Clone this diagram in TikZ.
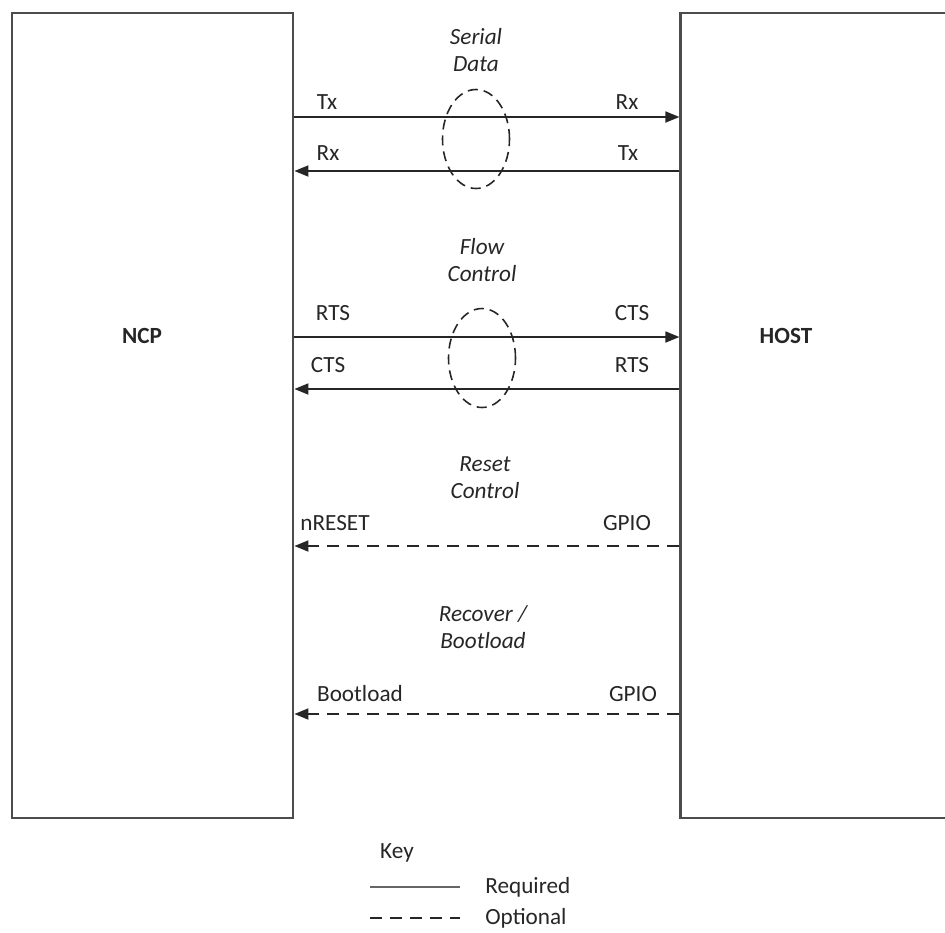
\documentclass[tikz,border=0pt]{standalone}
\usepackage{fontspec}
\setmainfont{Carlito}
\usepackage{tikz}
\usetikzlibrary{shapes.geometric,arrows.meta,positioning,calc}

\tikzset{
  chip/.style={draw=black!70, line width=1.6pt, minimum width=5.62cm, minimum height=16.1cm, inner sep=0pt},
  sig/.style={draw=black!85, line width=1pt, -{Triangle[length=0.28cm,width=0.22cm]}},
  optsig/.style={sig, dash pattern=on 0.24cm off 0.16cm},
  pin/.style={font=\fontsize{13.2}{15.4}\selectfont, text=black!85, inner sep=0pt},
  grp/.style={font=\fontsize{13.2}{15.4}\selectfont\itshape, align=center, text=black!85, inner sep=0pt},
  bundle/.style={ellipse, draw=black!85, line width=0.9pt, dash pattern=on 0.2cm off 0.12cm, minimum width=1.34cm, minimum height=1.98cm, inner sep=0pt}
}

\begin{document}
\begin{tikzpicture}
\clip (0,0) rectangle (18.9,-18.64);

% Two chips
\node[chip] (ncp) at (3.05,-8.31) {};
\node[chip, right=7.7cm of ncp] (host) {};
\node[pin, font=\fontsize{13.2}{15.4}\selectfont\bfseries] (ncplabel) at (2.84,-6.72) {NCP};
\node[pin, font=\fontsize{13.2}{15.4}\selectfont\bfseries] (hostlabel) at (15.72,-6.72) {HOST};

% Serial data
\node[grp] (serial) at (9.52,-1.0) {Serial\\Data};
\node[bundle] (serialring) at (9.52,-2.78) {};
\draw[sig] (ncp.east |- 0,-2.34) -- (host.west |- 0,-2.34);
\draw[sig] (host.west |- 0,-3.42) -- (ncp.east |- 0,-3.42);
\node[pin] (ncptx) at (6.54,-2.04) {Tx};
\node[pin] (hostrx) at (12.54,-2.04) {Rx};
\node[pin] (ncprx) at (6.56,-3.06) {Rx};
\node[pin] (hosttx) at (12.56,-3.06) {Tx};

% Flow control
\node[grp] (flow) at (9.64,-5.2) {Flow\\Control};
\node[bundle] (flowring) at (9.64,-7.16) {};
\draw[sig] (ncp.east |- 0,-6.74) -- (host.west |- 0,-6.74);
\draw[sig] (host.west |- 0,-7.78) -- (ncp.east |- 0,-7.78);
\node[pin] (ncprts) at (6.66,-6.26) {RTS};
\node[pin] (hostcts) at (12.64,-6.26) {CTS};
\node[pin] (ncpcts) at (6.56,-7.3) {CTS};
\node[pin] (hostrts) at (12.64,-7.3) {RTS};

% Reset control
\node[grp] (reset) at (9.7,-9.55) {Reset\\Control};
\draw[optsig] (host.west |- 0,-10.92) -- (ncp.east |- 0,-10.92);
\node[pin] (ncpreset) at (6.7,-10.46) {nRESET};
\node[pin] (hostgpioa) at (12.54,-10.46) {GPIO};

% Recover / bootload
\node[grp] (recover) at (9.66,-12.55) {Recover /\\Bootload};
\draw[optsig] (host.west |- 0,-14.28) -- (ncp.east |- 0,-14.28);
\node[pin] (ncpboot) at (7.2,-13.88) {Bootload};
\node[pin] (hostgpiob) at (12.66,-13.88) {GPIO};

% Key
\node[pin] (key) at (7.94,-17.06) {Key};
\coordinate (reqa) at (7.4,-17.74);
\coordinate (reqb) at (9.2,-17.74);
\coordinate (opta) at (7.4,-18.36);
\coordinate (optb) at (9.2,-18.36);
\draw[draw=black!60, line width=1.6pt] (reqa) -- (reqb);
\draw[draw=black!85, line width=1pt, dash pattern=on 0.24cm off 0.16cm] (opta) -- (optb);
\node[pin, anchor=west] (required) at (9.7,-17.74) {Required};
\node[pin, anchor=west] (optional) at (9.7,-18.36) {Optional};
\end{tikzpicture}
\end{document}
